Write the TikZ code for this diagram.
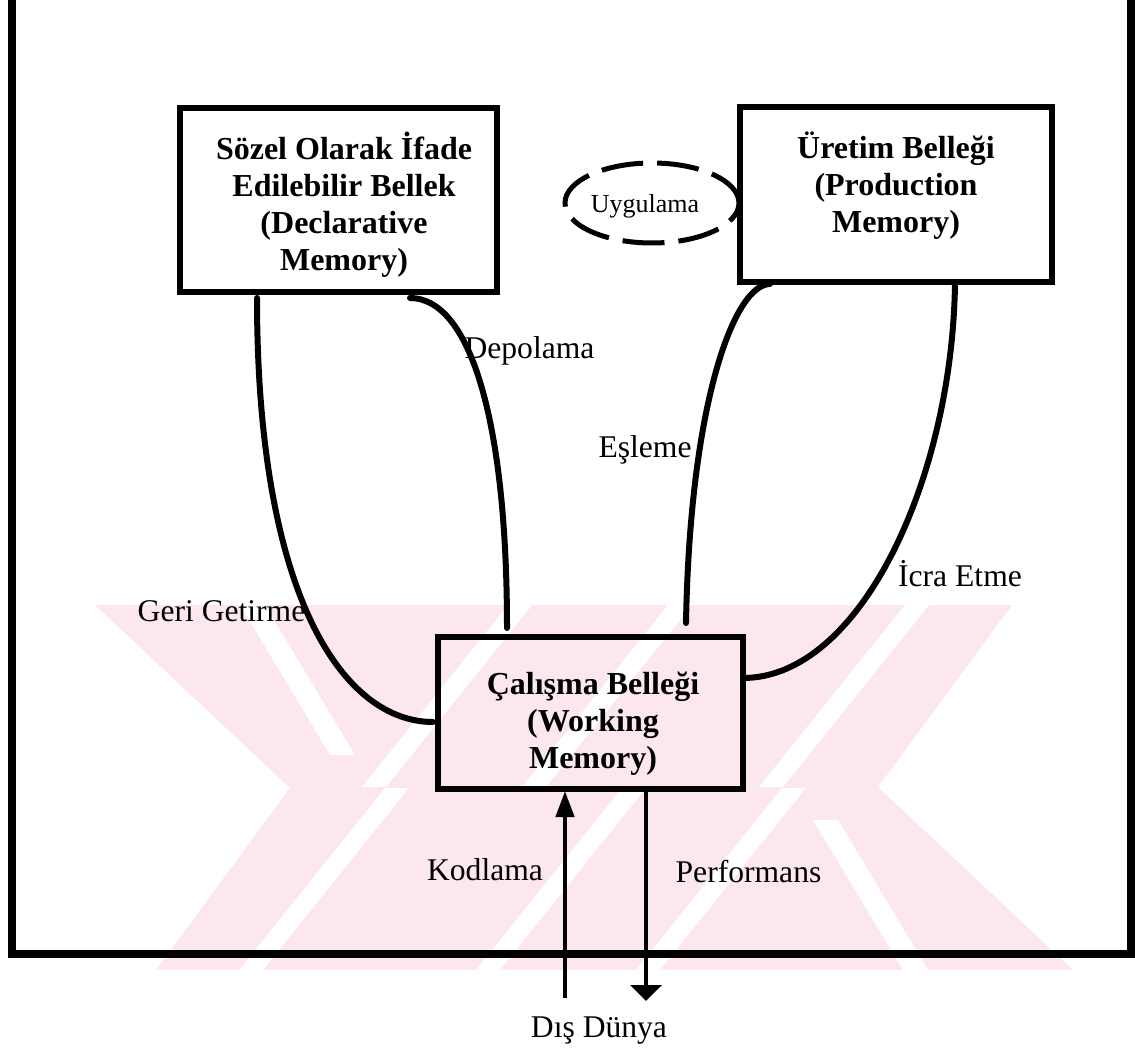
\documentclass[tikz,border=0pt]{standalone}
\usepackage{fontspec}
\setmainfont{Liberation Serif}
\usetikzlibrary{arrows.meta,calc,shapes.geometric}
\definecolor{wmpink}{RGB}{252,231,236}
\tikzset{
  box/.style={draw=black, line width=3pt, inner sep=0pt, outer sep=0pt},
  boxtext/.style={align=center, font=\fontsize{16pt}{18.5pt}\selectfont\bfseries, inner sep=0pt},
  lbl/.style={font=\fontsize{15.8pt}{18pt}\selectfont, inner sep=0pt, anchor=base},
  ovtext/.style={font=\fontsize{13pt}{15pt}\selectfont, inner sep=0pt, anchor=base},
  oval/.style={draw=black, ellipse, line width=2.5pt, dash pattern=on 21pt off 7pt, inner sep=0pt, minimum width=87pt, minimum height=40pt},
  conn/.style={line width=3pt, line cap=round},
  io/.style={line width=2.2pt},
  frameline/.style={line width=4pt},
  wmfill/.style={fill=wmpink},
  wmcut/.style={fill=white}
}
\begin{document}
\begin{tikzpicture}[x=0.5pt,y=-0.5pt]
\useasboundingbox (0,0) rectangle (1135,1048);
% watermark
\fill[wmfill] (95,605) -- (1012,605) -- (878,787) -- (1073,970) -- (156,970) -- (290,788) -- cycle;
\fill[wmcut] (508,605) -- (532,605) -- (386,787) -- (362,787) -- cycle;
\fill[wmcut] (668,605) -- (692,605) -- (546,787) -- (522,787) -- cycle;
\fill[wmcut] (905,605) -- (929,605) -- (783,787) -- (759,787) -- cycle;
\fill[wmcut] (240,605) -- (265,605) -- (355,755) -- (330,755) -- cycle;
\fill[wmcut] (660,970) -- (636,970) -- (782,788) -- (806,788) -- cycle;
\fill[wmcut] (500,970) -- (476,970) -- (622,788) -- (646,788) -- cycle;
\fill[wmcut] (263,970) -- (239,970) -- (385,788) -- (409,788) -- cycle;
\fill[wmcut] (928,970) -- (903,970) -- (813,820) -- (838,820) -- cycle;
% frame
\draw[frameline] (12,-20) -- (12,954) -- (1131,954) -- (1131,-20);
% boxes
\node[box, minimum width=158.5pt, minimum height=92pt] (dm) at (338.5,200) {};
\node[boxtext] (dmt) at (344,204.5) {Sözel Olarak İfade\\Edilebilir Bellek\\(Declarative\\Memory)};
\node[box, minimum width=156pt, minimum height=87.5pt] (pm) at (896,194.5) {};
\node[boxtext] (pmt) at (896,186) {Üretim Belleği\\(Production\\Memory)};
\node[box, minimum width=152.5pt, minimum height=76pt] (wm) at (590.5,713) {};
\node[boxtext] (wmt) at (593,724) {Çalışma Belleği\\(Working\\Memory)};
\node[oval] (ov) at (652,203) {};
\node[ovtext] (lugy) at (645,212.7) {Uygulama};
% labels
\node[lbl] (lgeri) at (221.5,621.7) {Geri Getirme};
\node[lbl] (ldep) at (529.5,358) {Depolama};
\node[lbl] (lesl) at (645,457) {Eşleme};
\node[lbl] (licra) at (960,586) {İcra Etme};
\node[lbl] (lkod) at (485,880.7) {Kodlama};
\node[lbl] (lperf) at (748.5,882) {Performans};
\node[lbl] (ldis) at (599,1037) {Dış Dünya};
% connectors
\draw[conn] ($(dm.south west)+(77,6)$) .. controls (257,600) and (345,722) .. ($(wm.north west)+(-5,85)$);
\draw[conn] ($(dm.south west)+(230,6)$) .. controls (470,298) and (507,420) .. ($(wm.north west)+(69,-9)$);
\draw[conn] ($(pm.south west)+(30,2)$) .. controls (735,284) and (690,400) .. ($(wm.north west)+(248,-14)$);
\draw[conn] ($(pm.south west)+(215,2)$) .. controls (952,480) and (860,678) .. ($(wm.north east)+(0,41)$);
\coordinate (kodstart) at (565,998);
\coordinate (perfend) at (646,1001);
\draw[io, -{Triangle[width=9pt,length=13pt]}] (kodstart) -- ($(kodstart |- wm.south)+(0,2)$);
\draw[io, -{Triangle[width=15.5pt,length=8pt]}] ($(perfend |- wm.south)$) -- (perfend);
\end{tikzpicture}
\end{document}
